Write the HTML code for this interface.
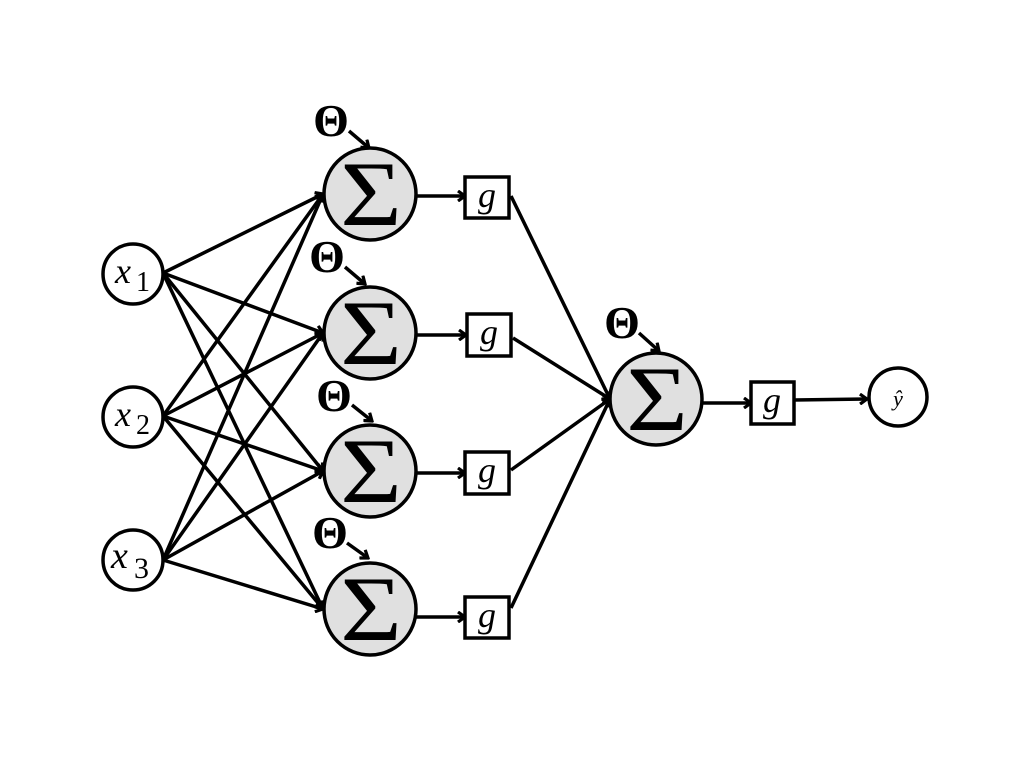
<!DOCTYPE html>
<html><head><style>
html,body{margin:0;padding:0;background:#fff;}
svg{display:block;}
text{font-family:"Liberation Serif",serif;}
</style></head><body>
<svg width="1030" height="758" viewBox="0 0 1030 758" xmlns="http://www.w3.org/2000/svg">
<defs>
<marker id="a" markerWidth="12" markerHeight="12" refX="10" refY="6" orient="auto" markerUnits="userSpaceOnUse">
<path d="M3,1 L10,6 L3,11" fill="none" stroke="#000" stroke-width="3.2"/>
</marker>
</defs>
<g stroke="#000" stroke-width="3.5" fill="none" marker-end="url(#a)">
<line x1="163" y1="273" x2="323" y2="194"/>
<line x1="163" y1="273" x2="323" y2="333"/>
<line x1="163" y1="273" x2="323" y2="471"/>
<line x1="163" y1="273" x2="323" y2="609"/>
<line x1="163" y1="416" x2="323" y2="194"/>
<line x1="163" y1="416" x2="323" y2="333"/>
<line x1="163" y1="416" x2="323" y2="471"/>
<line x1="163" y1="416" x2="323" y2="609"/>
<line x1="163" y1="560" x2="323" y2="194"/>
<line x1="163" y1="560" x2="323" y2="333"/>
<line x1="163" y1="560" x2="323" y2="471"/>
<line x1="163" y1="560" x2="323" y2="609"/>
<line x1="416" y1="196" x2="465" y2="196"/>
<line x1="416" y1="335" x2="466" y2="335"/>
<line x1="416" y1="473" x2="465" y2="473"/>
<line x1="416" y1="617" x2="465" y2="617"/>
<line x1="511" y1="196" x2="610" y2="399"/>
<line x1="513" y1="338" x2="610" y2="399"/>
<line x1="511" y1="470" x2="610" y2="399"/>
<line x1="511" y1="608" x2="610" y2="399"/>
<line x1="703" y1="403" x2="751" y2="403"/>
<line x1="794" y1="400" x2="867" y2="399"/>
<line x1="349" y1="131" x2="369" y2="148"/>
<line x1="345" y1="267" x2="365" y2="284"/>
<line x1="352" y1="405" x2="372" y2="421"/>
<line x1="347" y1="543" x2="368" y2="558"/>
<line x1="639" y1="333" x2="659" y2="351"/>
</g>
<g stroke="#000" stroke-width="3.5">
<circle cx="133" cy="274" r="30" fill="#fff"/>
<circle cx="133" cy="417" r="30" fill="#fff"/>
<circle cx="133" cy="560" r="30" fill="#fff"/>
<circle cx="370" cy="194" r="46" fill="#e0e0e0"/>
<circle cx="370" cy="333" r="46" fill="#e0e0e0"/>
<circle cx="370" cy="471" r="46" fill="#e0e0e0"/>
<circle cx="370" cy="609" r="46" fill="#e0e0e0"/>
<circle cx="656" cy="399" r="46" fill="#e0e0e0"/>
<circle cx="898" cy="397" r="29" fill="#fff"/>
<rect x="465" y="177" width="44" height="41" fill="#fff"/>
<rect x="467" y="314" width="44" height="42" fill="#fff"/>
<rect x="465" y="452" width="44" height="42" fill="#fff"/>
<rect x="465" y="597" width="44" height="41" fill="#fff"/>
<rect x="751" y="382" width="43" height="42" fill="#fff"/>
</g>
<g fill="#000" text-anchor="middle">
<g font-size="92">
<text x="371" y="225" transform="translate(371 0) scale(1.15 1) translate(-371 0)">Σ</text>
<text x="371" y="364" transform="translate(371 0) scale(1.15 1) translate(-371 0)">Σ</text>
<text x="371" y="502" transform="translate(371 0) scale(1.15 1) translate(-371 0)">Σ</text>
<text x="371" y="640" transform="translate(371 0) scale(1.15 1) translate(-371 0)">Σ</text>
<text x="657" y="430" transform="translate(657 0) scale(1.15 1) translate(-657 0)">Σ</text>
</g>
<text x="487" y="207" font-size="36" font-style="italic">g</text>
<text x="489" y="344" font-size="36" font-style="italic">g</text>
<text x="487" y="482" font-size="36" font-style="italic">g</text>
<text x="487" y="627" font-size="36" font-style="italic">g</text>
<text x="772" y="412" font-size="36" font-style="italic">g</text>
<text x="898" y="406" font-size="22" font-style="italic">ŷ</text>
<g font-size="46" font-weight="bold">
<text x="331" y="136">Θ</text>
<text x="327" y="272">Θ</text>
<text x="334" y="411">Θ</text>
<text x="330" y="548">Θ</text>
<text x="622" y="338">Θ</text>
</g>
</g>
<g fill="#000">
<text x="115" y="283" font-size="36" font-style="italic">x</text><text x="136" y="291" font-size="28">1</text>
<text x="115" y="426" font-size="36" font-style="italic">x</text><text x="136" y="434" font-size="28">2</text>
<text x="111" y="568" font-size="38" font-style="italic">x</text><text x="134" y="578" font-size="30">3</text>
</g>
</svg>
</body></html>
